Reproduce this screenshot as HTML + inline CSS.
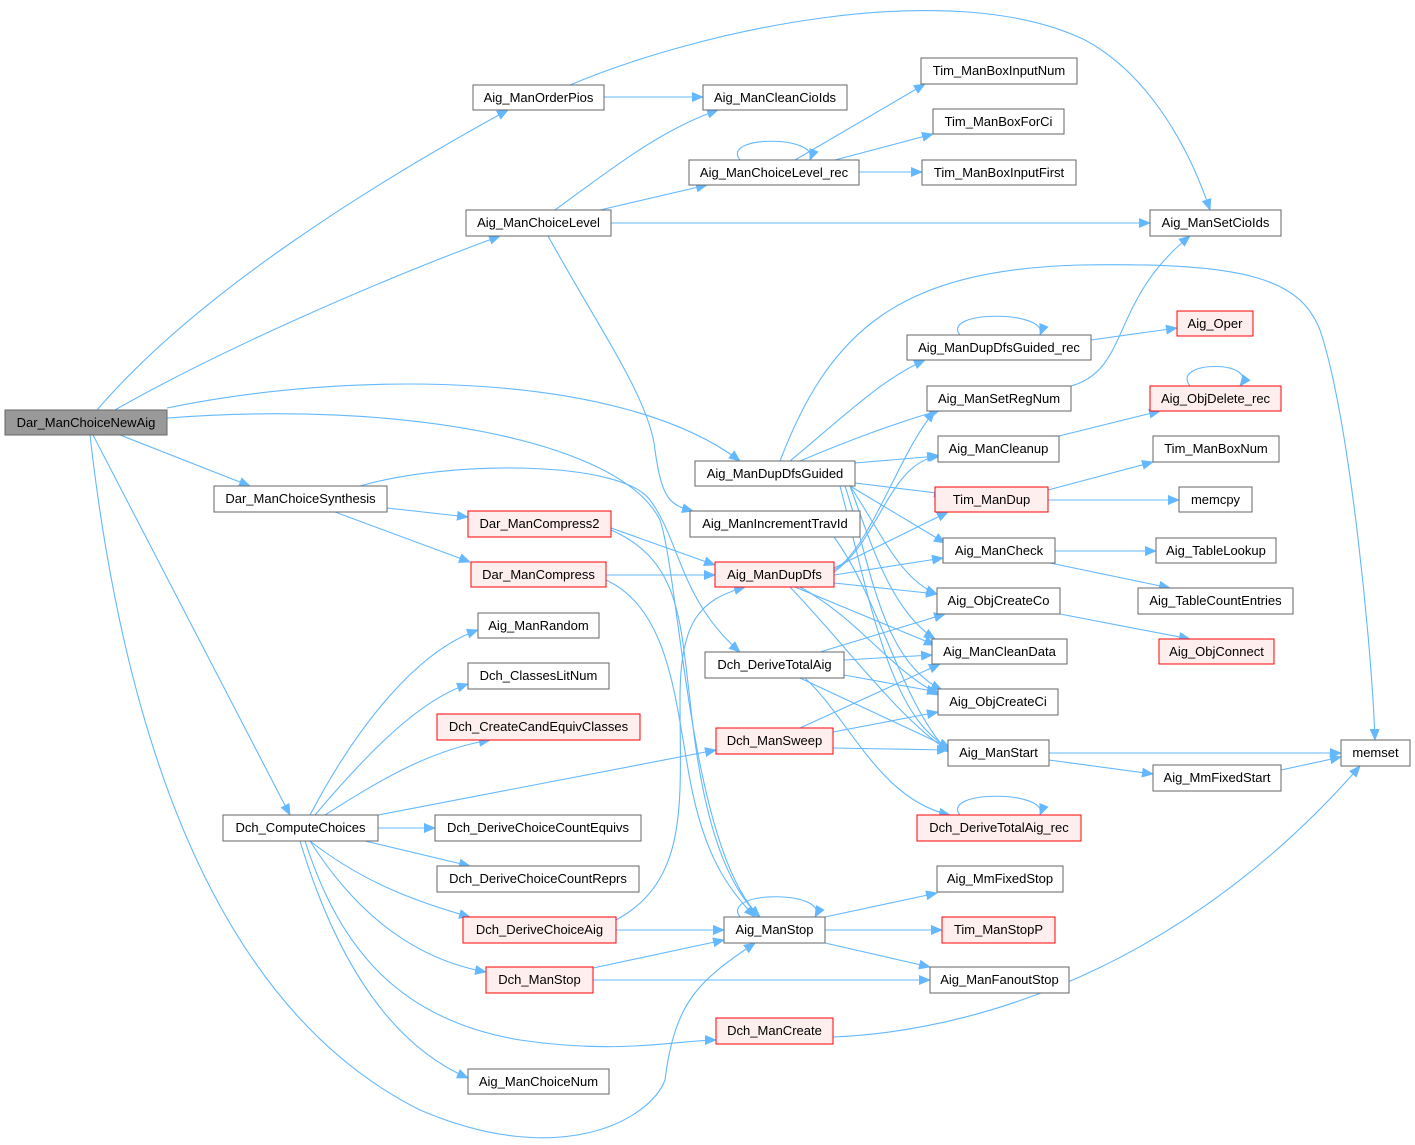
<!DOCTYPE html>
<html><head><meta charset="utf-8"><style>
html,body{margin:0;padding:0;background:#fff;}
svg{display:block;}
text{font-family:"Liberation Sans",Arial,sans-serif;font-size:13px;fill:#000;}
.e{fill:none;stroke:#63b8ff;stroke-width:1.1;marker-end:url(#a);}
</style></head><body>
<svg width="1415" height="1145" viewBox="0 0 1415 1145" xmlns="http://www.w3.org/2000/svg">
<defs><marker id="a" markerWidth="12" markerHeight="10" refX="11" refY="5" orient="auto" markerUnits="userSpaceOnUse"><path d="M0,0 L12,5 L0,10 z" fill="#63b8ff"/></marker></defs>
<g>
<path class="e" d="M97,410 C200,290 380,180 508,110"/>
<path class="e" d="M115,410 C220,350 380,280 500,236"/>
<path class="e" d="M167,408 C350,370 620,370 740,461"/>
<path class="e" d="M167,418 C400,400 620,440 660,520 C680,580 690,850 760,917"/>
<path class="e" d="M120,435 L250,486"/>
<path class="e" d="M93,435 L290,815"/>
<path class="e" d="M90,435 C120,700 200,1000 420,1110 C560,1170 650,1120 665,1080 C675,1000 700,980 755,943"/>
<path class="e" d="M570,85 C700,30 950,-25 1085,40 C1150,75 1190,150 1210,210"/>
<path class="e" d="M604,97 L703,97"/>
<path class="e" d="M555,210 C610,170 660,130 718,110"/>
<path class="e" d="M600,210 L707,185"/>
<path class="e" d="M611,223 L1150,223"/>
<path class="e" d="M548,236 C600,330 650,400 655,450 C662,500 670,505 693,511"/>
<path class="e" d="M740,160 C720,135 820,135 810,160"/>
<path class="e" d="M795,160 L925,84"/>
<path class="e" d="M835,160 L933,134"/>
<path class="e" d="M859,172 L922,172"/>
<path class="e" d="M780,461 C830,330 900,270 1080,265 C1250,262 1300,280 1320,330 C1350,420 1372,650 1375,740"/>
<path class="e" d="M790,461 C840,420 880,380 925,360"/>
<path class="e" d="M800,461 C850,440 890,425 940,410"/>
<path class="e" d="M855,463 L938,456"/>
<path class="e" d="M855,483 L945,494"/>
<path class="e" d="M850,486 L945,543"/>
<path class="e" d="M850,486 C880,530 900,580 937,594"/>
<path class="e" d="M850,486 C870,540 890,610 935,639"/>
<path class="e" d="M845,486 C870,560 880,660 942,690"/>
<path class="e" d="M840,486 C870,600 890,720 950,748"/>
<path class="e" d="M960,335 C940,310 1050,310 1040,335"/>
<path class="e" d="M1091,340 L1177,328"/>
<path class="e" d="M1071,386 C1130,370 1110,300 1190,236"/>
<path class="e" d="M1059,436 L1160,411"/>
<path class="e" d="M1190,386 C1170,360 1260,360 1240,386"/>
<path class="e" d="M1048,490 L1153,462"/>
<path class="e" d="M1048,500 L1179,500"/>
<path class="e" d="M1055,551 L1156,551"/>
<path class="e" d="M1050,563 L1170,588"/>
<path class="e" d="M1060,614 L1190,639"/>
<path class="e" d="M1049,753 L1341,753"/>
<path class="e" d="M1049,760 L1153,774"/>
<path class="e" d="M1281,770 L1341,757"/>
<path class="e" d="M360,486 C450,460 620,460 650,500 C680,540 680,600 740,652"/>
<path class="e" d="M387,508 L468,517"/>
<path class="e" d="M335,512 L470,562"/>
<path class="e" d="M611,528 L715,565"/>
<path class="e" d="M606,575 L715,575"/>
<path class="e" d="M611,530 C680,560 680,620 690,700 C700,800 720,880 760,917"/>
<path class="e" d="M606,580 C670,610 675,700 690,780 C705,860 730,890 755,917"/>
<path class="e" d="M834,570 C870,550 900,450 935,411"/>
<path class="e" d="M834,572 C880,540 890,460 940,456"/>
<path class="e" d="M834,568 L948,512"/>
<path class="e" d="M834,575 L943,558"/>
<path class="e" d="M834,583 L937,594"/>
<path class="e" d="M795,587 L935,645"/>
<path class="e" d="M800,587 C860,620 890,670 940,695"/>
<path class="e" d="M790,587 C850,650 900,720 950,752"/>
<path class="e" d="M834,537 C880,600 900,700 948,752"/>
<path class="e" d="M820,652 L945,614"/>
<path class="e" d="M844,660 L932,655"/>
<path class="e" d="M844,675 L938,692"/>
<path class="e" d="M800,678 L950,748"/>
<path class="e" d="M805,678 C850,720 880,800 950,815"/>
<path class="e" d="M960,815 C940,790 1050,790 1040,815"/>
<path class="e" d="M800,728 L940,664"/>
<path class="e" d="M833,732 L938,712"/>
<path class="e" d="M833,748 L948,750"/>
<path class="e" d="M310,815 C360,720 420,650 478,630"/>
<path class="e" d="M315,815 C370,750 420,700 468,684"/>
<path class="e" d="M325,815 C380,780 430,750 490,740"/>
<path class="e" d="M378,828 L435,828"/>
<path class="e" d="M365,841 L470,866"/>
<path class="e" d="M310,841 C360,880 410,900 470,917"/>
<path class="e" d="M310,841 C360,920 420,960 486,972"/>
<path class="e" d="M305,841 C340,950 400,1020 520,1040 C620,1055 680,1040 716,1040"/>
<path class="e" d="M300,841 C330,940 380,1040 468,1078"/>
<path class="e" d="M378,815 L716,750"/>
<path class="e" d="M616,930 L724,930"/>
<path class="e" d="M616,920 C690,880 680,800 680,700 C680,620 700,600 745,587"/>
<path class="e" d="M593,968 L724,940"/>
<path class="e" d="M593,980 L930,980"/>
<path class="e" d="M833,1037 C1000,1030 1200,950 1360,766"/>
<path class="e" d="M740,917 C720,890 830,890 815,917"/>
<path class="e" d="M825,917 L937,893"/>
<path class="e" d="M825,930 L942,930"/>
<path class="e" d="M825,943 L930,967"/>
</g>
<g stroke="#666" stroke-width="1" fill="#fff">
<rect x="5" y="410" width="162" height="25" fill="#999"/>
<rect x="473" y="85" width="131" height="25"/>
<rect x="703" y="85" width="144" height="25"/>
<rect x="921" y="58" width="156" height="26"/>
<rect x="933" y="109" width="131" height="25"/>
<rect x="689" y="160" width="170" height="25"/>
<rect x="922" y="160" width="154" height="25"/>
<rect x="466" y="210" width="145" height="26"/>
<rect x="1150" y="210" width="131" height="26"/>
<rect x="907" y="335" width="184" height="25"/>
<rect x="927" y="386" width="144" height="25"/>
<rect x="695" y="461" width="160" height="25"/>
<rect x="938" y="436" width="121" height="26"/>
<rect x="1153" y="436" width="126" height="26"/>
<rect x="214" y="486" width="173" height="26"/>
<rect x="1179" y="487" width="73" height="25"/>
<rect x="690" y="511" width="170" height="26"/>
<rect x="943" y="538" width="112" height="25"/>
<rect x="1156" y="538" width="120" height="25"/>
<rect x="1138" y="588" width="155" height="26"/>
<rect x="937" y="588" width="123" height="26"/>
<rect x="478" y="613" width="121" height="25"/>
<rect x="705" y="652" width="139" height="26"/>
<rect x="932" y="639" width="135" height="25"/>
<rect x="468" y="663" width="141" height="26"/>
<rect x="938" y="689" width="120" height="26"/>
<rect x="948" y="740" width="101" height="26"/>
<rect x="1341" y="740" width="69" height="26"/>
<rect x="1153" y="765" width="128" height="26"/>
<rect x="223" y="815" width="155" height="26"/>
<rect x="435" y="815" width="206" height="26"/>
<rect x="437" y="866" width="202" height="26"/>
<rect x="937" y="866" width="126" height="26"/>
<rect x="724" y="917" width="101" height="26"/>
<rect x="930" y="967" width="139" height="26"/>
<rect x="468" y="1069" width="141" height="25"/>
</g>
<g stroke="#f00" stroke-width="1" fill="#fee">
<rect x="1177" y="311" width="76" height="25"/>
<rect x="1150" y="386" width="131" height="25"/>
<rect x="935" y="487" width="113" height="25"/>
<rect x="468" y="511" width="143" height="26"/>
<rect x="471" y="562" width="135" height="25"/>
<rect x="715" y="562" width="119" height="25"/>
<rect x="1159" y="639" width="115" height="25"/>
<rect x="437" y="714" width="203" height="26"/>
<rect x="716" y="728" width="117" height="26"/>
<rect x="917" y="815" width="164" height="26"/>
<rect x="463" y="917" width="153" height="26"/>
<rect x="942" y="917" width="113" height="26"/>
<rect x="486" y="967" width="107" height="26"/>
<rect x="716" y="1018" width="117" height="26"/>
</g>
<g text-anchor="middle">
<text x="86" y="427">Dar_ManChoiceNewAig</text>
<text x="538.5" y="102">Aig_ManOrderPios</text>
<text x="775" y="102">Aig_ManCleanCioIds</text>
<text x="999" y="75">Tim_ManBoxInputNum</text>
<text x="998.5" y="126">Tim_ManBoxForCi</text>
<text x="774" y="177">Aig_ManChoiceLevel_rec</text>
<text x="999" y="177">Tim_ManBoxInputFirst</text>
<text x="538.5" y="227">Aig_ManChoiceLevel</text>
<text x="1215.5" y="227">Aig_ManSetCioIds</text>
<text x="999" y="352">Aig_ManDupDfsGuided_rec</text>
<text x="1215" y="328">Aig_Oper</text>
<text x="999" y="403">Aig_ManSetRegNum</text>
<text x="1215.5" y="403">Aig_ObjDelete_rec</text>
<text x="775" y="478">Aig_ManDupDfsGuided</text>
<text x="998.5" y="453">Aig_ManCleanup</text>
<text x="1216" y="453">Tim_ManBoxNum</text>
<text x="300.5" y="503">Dar_ManChoiceSynthesis</text>
<text x="991.5" y="504">Tim_ManDup</text>
<text x="1215.5" y="504">memcpy</text>
<text x="775" y="528">Aig_ManIncrementTravId</text>
<text x="539.5" y="528">Dar_ManCompress2</text>
<text x="538.5" y="579">Dar_ManCompress</text>
<text x="774.5" y="579">Aig_ManDupDfs</text>
<text x="999" y="555">Aig_ManCheck</text>
<text x="1216" y="555">Aig_TableLookup</text>
<text x="1215.5" y="605">Aig_TableCountEntries</text>
<text x="998.5" y="605">Aig_ObjCreateCo</text>
<text x="538.5" y="630">Aig_ManRandom</text>
<text x="1216.5" y="656">Aig_ObjConnect</text>
<text x="774.5" y="669">Dch_DeriveTotalAig</text>
<text x="999.5" y="656">Aig_ManCleanData</text>
<text x="538.5" y="680">Dch_ClassesLitNum</text>
<text x="998" y="706">Aig_ObjCreateCi</text>
<text x="538.5" y="731">Dch_CreateCandEquivClasses</text>
<text x="774.5" y="745">Dch_ManSweep</text>
<text x="998.5" y="757">Aig_ManStart</text>
<text x="1375.5" y="757">memset</text>
<text x="1217" y="782">Aig_MmFixedStart</text>
<text x="300.5" y="832">Dch_ComputeChoices</text>
<text x="538" y="832">Dch_DeriveChoiceCountEquivs</text>
<text x="999" y="832">Dch_DeriveTotalAig_rec</text>
<text x="538" y="883">Dch_DeriveChoiceCountReprs</text>
<text x="1000" y="883">Aig_MmFixedStop</text>
<text x="539.5" y="934">Dch_DeriveChoiceAig</text>
<text x="774.5" y="934">Aig_ManStop</text>
<text x="998.5" y="934">Tim_ManStopP</text>
<text x="539.5" y="984">Dch_ManStop</text>
<text x="999.5" y="984">Aig_ManFanoutStop</text>
<text x="774.5" y="1035">Dch_ManCreate</text>
<text x="538.5" y="1086">Aig_ManChoiceNum</text>
</g>
</svg>
</body></html>
